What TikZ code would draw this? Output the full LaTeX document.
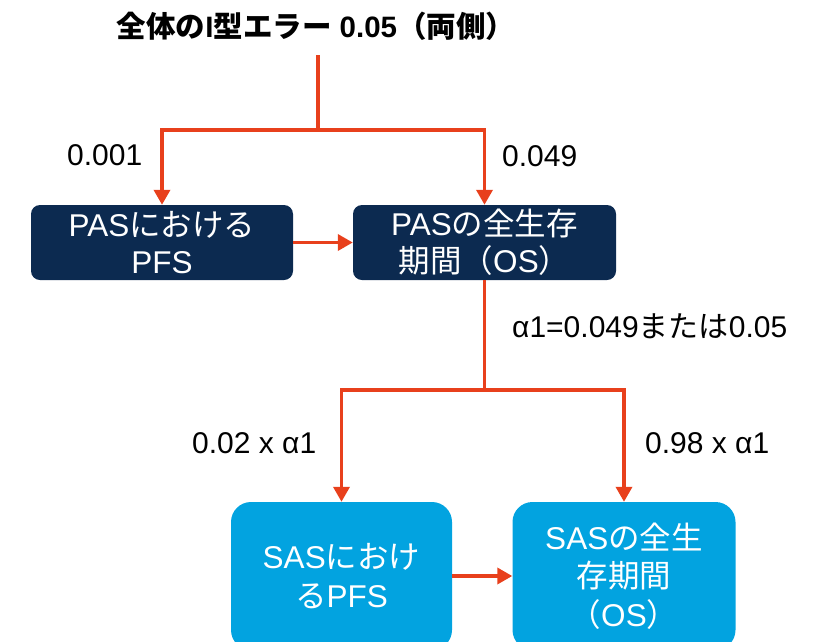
\documentclass[tikz,border=0pt]{standalone}
\usepackage{fontspec}
\setmainfont{Liberation Sans}
\newfontfamily\jp{Noto Sans CJK JP}
\usetikzlibrary{arrows.meta}
\definecolor{navy}{HTML}{0C2A50}
\definecolor{sky}{HTML}{02A3E0}
\definecolor{flow}{HTML}{E8401C}

\begin{document}
\begin{tikzpicture}[x=1pt,y=-1pt,
  link/.style={draw=flow, line width=3.5pt},
  conn/.style={link, -{Triangle[length=15pt,width=16pt]}},
  darkbox/.style={fill=navy, rounded corners=9pt, text=white, align=center,
    font=\fontsize{31.5}{37}\selectfont, inner sep=0pt, minimum height=75pt},
  lightbox/.style={fill=sky, rounded corners=20pt, text=white, align=center,
    font=\fontsize{31.5}{38.5}\selectfont, inner sep=0pt, minimum height=148pt},
  lbl/.style={font=\fontsize{30}{36}\selectfont, inner sep=0pt, anchor=base west}
]
\useasboundingbox (0,0) rectangle (833,641);

% heading
\node[font=\fontsize{29.5}{33}\selectfont\bfseries, anchor=base, inner sep=0pt] (title) at (316,37)
  {{\jp 全体の}I{\jp 型エラー} 0.05{\jp （両側）}};

% primary endpoints
\node[darkbox, minimum width=262pt] (pfs1) at (162,242.5) {PAS{\jp における}\\PFS};
\node[darkbox, minimum width=263pt] (os1) at (484.5,242.5) {PAS{\jp の全生存}\\{\jp 期間（}OS{\jp ）}};

% secondary endpoints
\node[lightbox, minimum width=221pt] (pfs2) at (341.5,576) {SAS{\jp におけ}\\{\jp る}PFS};
\node[lightbox, minimum width=223pt] (os2) at (624,576) {SAS{\jp の全生}\\{\jp 存期間}\\{\jp （}OS{\jp ）}};

% alpha split from the top
\coordinate (top) at (318,55);
\coordinate (split) at (318,130);
\draw[link] (top) -- (split);
\draw[conn] (split) -| (pfs1.north);
\draw[conn] (split) -| (os1.north);
\draw[conn] (pfs1.east) -- (os1.west);

% alpha passed on to the secondary endpoints
\draw[link] (os1.south) -- ++(0,110) coordinate (split2);
\draw[conn] (split2) -| (pfs2.north);
\draw[conn] (split2) -| (os2.north);
\draw[conn] (pfs2.east) -- (os2.west);

% allocations
\node[lbl] (a1) at (67,165) {0.001};
\node[lbl] (a2) at (502,166) {0.049};
\node[lbl] (a3) at (512,337) {α1=0.049{\jp または}0.05};
\node[lbl] (a4) at (192,453) {0.02 x α1};
\node[lbl] (a5) at (645,453) {0.98 x α1};
\end{tikzpicture}
\end{document}
